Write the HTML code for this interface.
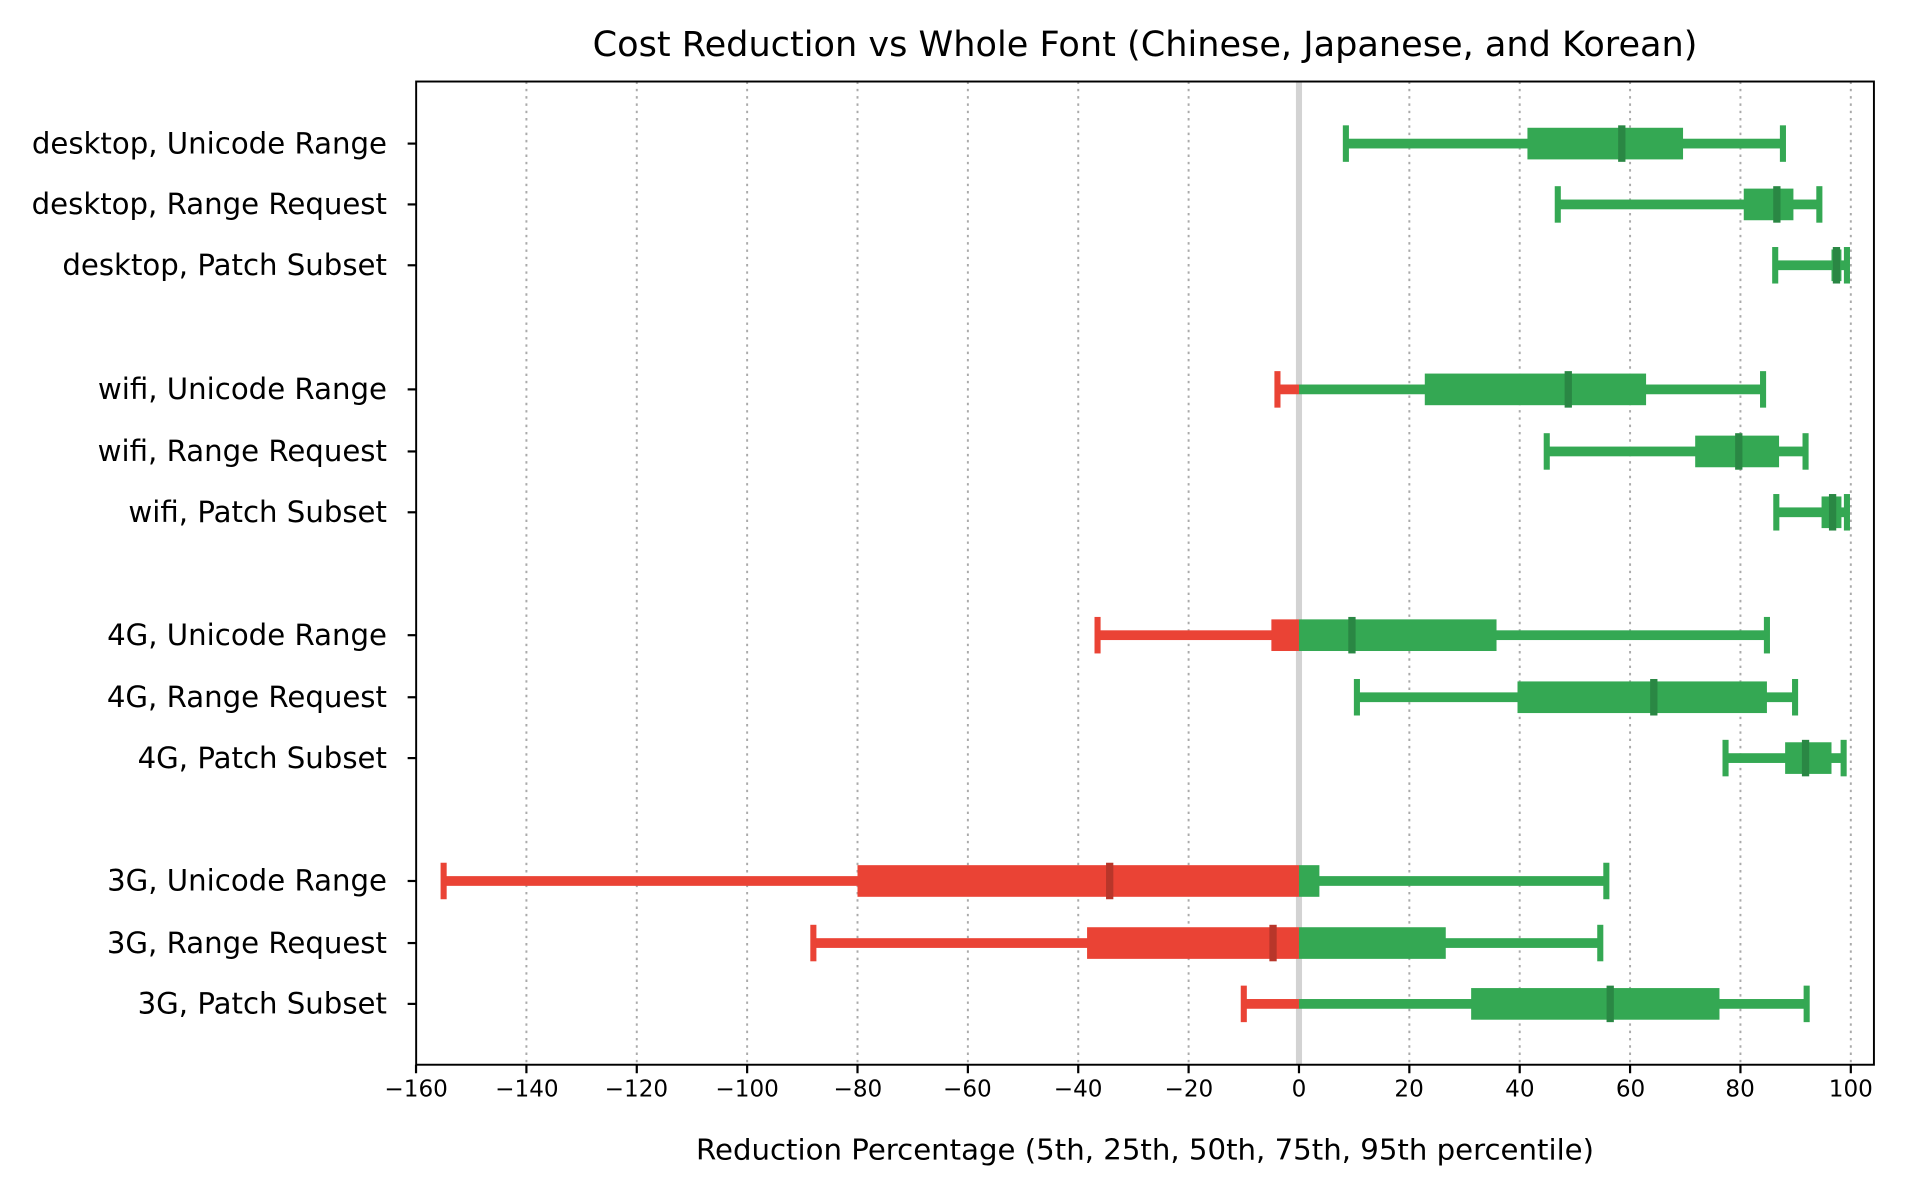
<!DOCTYPE html>
<html><head><meta charset="utf-8"><style>
html,body{margin:0;padding:0;background:#fff;}
svg{display:block;font-family:"DejaVu Sans","Liberation Sans",sans-serif;}
</style></head><body>
<svg id="s" width="1908" height="1197" viewBox="0 0 1568 983.7" xmlns="http://www.w3.org/2000/svg">
<rect width="1568" height="984" fill="#fff"/>
<g id="grid"></g>
<rect x="1065" y="67" width="5" height="808" fill="#d3d3d3"/>
<g id="bars"></g>
<rect x="342" y="67" width="1198" height="808" fill="none" stroke="#000" stroke-width="1.6"/>
<text x="941" y="46" font-size="28.6" text-anchor="middle" textLength="908" lengthAdjust="spacingAndGlyphs">Cost Reduction vs Whole Font (Chinese, Japanese, and Korean)</text>
<text x="941" y="953" font-size="23.5" text-anchor="middle" textLength="738" lengthAdjust="spacingAndGlyphs">Reduction Percentage (5th, 25th, 50th, 75th, 95th percentile)</text>
<g font-size="24" text-anchor="end">
<text x="318" y="126">desktop, Unicode Range</text>
<text x="318" y="176">desktop, Range Request</text>
<text x="318" y="226">desktop, Patch Subset</text>
<text x="318" y="328">wifi, Unicode Range</text>
<text x="318" y="379">wifi, Range Request</text>
<text x="318" y="429">wifi, Patch Subset</text>
<text x="318" y="530">4G, Unicode Range</text>
<text x="318" y="581">4G, Range Request</text>
<text x="318" y="631">4G, Patch Subset</text>
<text x="318" y="732">3G, Unicode Range</text>
<text x="318" y="783">3G, Range Request</text>
<text x="318" y="833">3G, Patch Subset</text>
</g>
<g font-size="19" text-anchor="middle">
<text x="342" y="901">−160</text><text x="433" y="901">−140</text><text x="523" y="901">−120</text>
<text x="614" y="901">−100</text><text x="705" y="901">−80</text><text x="795" y="901">−60</text>
<text x="886" y="901">−40</text><text x="977" y="901">−20</text><text x="1067.5" y="901">0</text>
<text x="1158" y="901">20</text><text x="1249" y="901">40</text><text x="1340" y="901">60</text>
<text x="1430" y="901">80</text><text x="1521" y="901">100</text>
</g>
</svg>
<script>
var NS="http://www.w3.org/2000/svg";
function el(p,t,a){var e=document.createElementNS(NS,t);for(var k in a)e.setAttribute(k,a[k]);p.appendChild(e);return e;}
var X=function(v){return 1067.5+v*4.535;};
var g=document.getElementById('grid'),b=document.getElementById('bars'),s=document.getElementById('s');
for(var v=-160;v<=100;v+=20){var x=X(v);
 if(v!==0&&v!==-160)el(g,'line',{x1:x,x2:x,y1:67,y2:875,stroke:'#aaa','stroke-width':1.6,'stroke-dasharray':'2,4'});
 el(s,'line',{x1:x,x2:x,y1:875,y2:882,stroke:'#000','stroke-width':1.8});}
var ys=[118,168,218,320,371,421,522,573,623,724,775,825];
ys.forEach(function(y){el(s,'line',{x1:335,x2:342,y1:y,y2:y,stroke:'#000','stroke-width':1.8});});
var d=[[8.5,41.4,58.5,69.6,87.7],[46.9,80.6,86.6,89.6,94.3],[86.3,96.5,97.4,98.3,99.3],
[-3.9,22.8,48.8,62.9,84.1],[44.9,71.8,79.7,87,91.8],[86.5,94.7,96.7,98.3,99.3],
[-36.5,-5,9.6,35.8,84.8],[10.5,39.6,64.3,84.8,89.9],[77.3,88.1,91.8,96.5,98.7],
[-155,-80,-34.3,3.7,55.7],[-88,-38.4,-4.7,26.6,54.6],[-10,31.2,56.4,76.2,92]];
var G='#34a853',R='#ea4335',GD='#2a8744',RD='#b8362a';
function seg(a,c,y,h){
 if(a<0){var e=Math.min(c,0);el(b,'rect',{x:X(a),y:y-h/2,width:X(e)-X(a),height:h,fill:R});}
 if(c>0){var st=Math.max(a,0);el(b,'rect',{x:X(st),y:y-h/2,width:X(c)-X(st),height:h,fill:G});}
}
d.forEach(function(r,i){var y=ys[i];
 seg(r[0],r[4],y,8);seg(r[1],r[3],y,26);
 [r[0],r[4]].forEach(function(v){el(b,'rect',{x:X(v)-2.5,y:y-15,width:5,height:30,fill:v<0?R:G});});
 el(b,'rect',{x:X(r[2])-3,y:y-15,width:6,height:30,fill:r[2]<0?RD:GD});
});
</script>
</body></html>
